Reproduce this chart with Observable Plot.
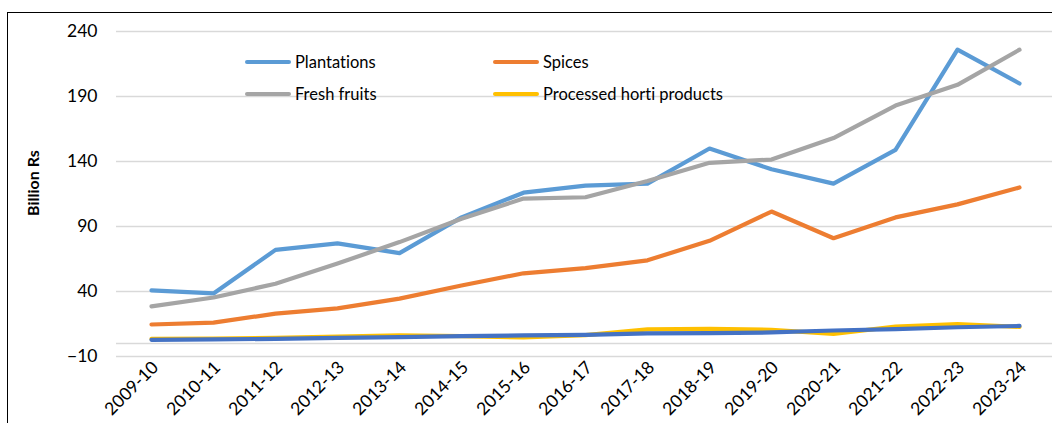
<!DOCTYPE html>
<html>
<head>
<meta charset="utf-8">
<script src="https://cdn.jsdelivr.net/npm/d3@7"></script>
<script src="https://cdn.jsdelivr.net/npm/@observablehq/plot@0.6"></script>
<style>
  html, body { margin: 0; padding: 0; background: #fff; overflow: hidden; }
  #wrap { position: relative; width: 1052px; height: 423px; font-family: Lato, "Open Sans", sans-serif;
          font-variant-ligatures: none; }
  #frame { position: absolute; left: 7px; top: 12px; width: 1100px; height: 500px;
           border-left: 1px solid #000; border-top: 1px solid #000; pointer-events: none; }
  .leg { position: absolute; display: flex; align-items: center; font-size: 16.5px; color: #000; height: 20px;
         font-variant-ligatures: none; }
  .sw { display: inline-block; width: 46px; height: 4px; border-radius: 2px; margin-right: 4px; }
  #ylabel { position: absolute; left: 32px; top: 183px; transform: translate(-50%, -50%) rotate(-90deg);
            font-weight: bold; font-size: 16px; white-space: nowrap; color: #000; }
  svg text { font-variant-ligatures: none; }
</style>
</head>
<body>
<div id="wrap">
  <div id="chart"></div>
  <div id="frame"></div>
  <div id="legend"></div>
  <div id="ylabel"></div>
</div>
<script>
const years = ["2009-10","2010-11","2011-12","2012-13","2013-14","2014-15","2015-16","2016-17","2017-18","2018-19","2019-20","2020-21","2021-22","2022-23","2023-24"];
const plantations = [40.8, 38.5, 72, 77, 69.5, 97, 116, 121.5, 123, 150, 134, 123, 149, 226, 200];
const spices      = [14.6, 16, 23, 27, 34.5, 44.6, 54, 58, 64, 79, 101.5, 81, 97, 107, 120];
const freshFruits = [28.5, 35.4, 46, 61.5, 78, 96, 111.5, 112.5, 125, 139, 141.5, 158, 183, 199, 226];
const processed   = [3.5, 3.8, 4.4, 5.4, 6.2, 5.6, 4.6, 6.5, 10.8, 11.3, 10.5, 7.4, 13, 15, 12.8];
const series5     = [2.8, 3.1, 3.6, 4.4, 4.9, 5.6, 6.2, 6.7, 7.8, 8.0, 8.5, 10, 11, 12.5, 13.5];
const yTicks = [-10, 40, 90, 140, 190, 240];
const baseline = [0];
const yLabel = "Billion Rs";

const seriesNames = ["Plantations", "Spices", "Fresh fruits", "Processed horti products", ""];
const seriesValues = [plantations, spices, freshFruits, processed, series5];
const colors = ["#5B9BD5", "#ED7D31", "#A5A5A5", "#FFC000", "#4472C4"];
const legendOrder = [0, 1, 2, 3];

const data = [];
seriesValues.forEach((vals, si) => {
  vals.forEach((v, i) => data.push({series: si, year: years[i], value: v}));
});

const lineMarks = seriesValues.map((_, si) =>
  Plot.line(data.filter(d => d.series === si), {
    x: "year", y: "value", stroke: colors[si], strokeWidth: 4.2,
    strokeLinejoin: "round", strokeLinecap: "round", curve: "linear"
  })
);

const chart = Plot.plot({
  width: 1052,
  height: 423,
  marginLeft: 116,
  marginRight: -1,
  marginTop: 31,
  marginBottom: 67,
  style: { fontFamily: "Lato, 'Open Sans', sans-serif", fontSize: "17.5px", color: "#000", background: "transparent" },
  x: { type: "point", domain: years, padding: 0.5 },
  y: { domain: [-10, 240] },
  marks: [
    Plot.ruleY(yTicks, { stroke: "#d9d9d9", strokeWidth: 1.5 }),
    Plot.ruleY(baseline, { stroke: "#d9d9d9", strokeWidth: 1.5 }),
    Plot.axisY({ ticks: yTicks, tickSize: 0, tickPadding: 19, label: null, fontSize: 17.5 }),
    Plot.axisX({ tickSize: 0, tickRotate: -45, tickPadding: 8, dx: 4, label: null, fontSize: 17.5 }),
    ...lineMarks
  ]
});
document.getElementById("chart").appendChild(chart);
document.getElementById("ylabel").textContent = yLabel;

const legend = document.getElementById("legend");
const legPos = [[245, 52], [493, 52], [245, 84], [493, 84]];
legendOrder.forEach((si, k) => {
  const item = document.createElement("div");
  item.className = "leg";
  item.style.left = legPos[k][0] + "px";
  item.style.top = legPos[k][1] + "px";
  const sw = document.createElement("span");
  sw.className = "sw";
  sw.style.background = colors[si];
  const t = document.createElement("span");
  t.textContent = seriesNames[si];
  item.appendChild(sw);
  item.appendChild(t);
  legend.appendChild(item);
});
</script>
</body>
</html>
